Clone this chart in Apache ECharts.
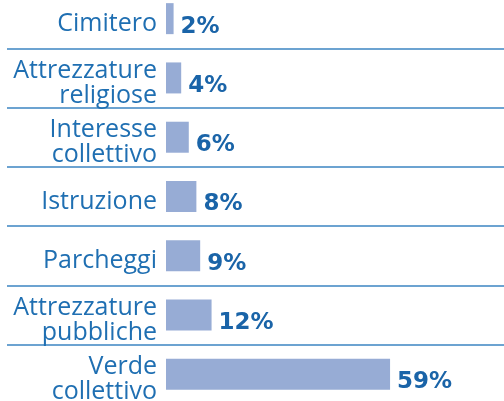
<!DOCTYPE html>
<html>
<head>
<meta charset="utf-8">
<script src="https://cdn.jsdelivr.net/npm/echarts@6/dist/echarts.min.js"></script>
<style>
  html, body { margin: 0; padding: 0; background: #fff; overflow: hidden; }
  /* il grafico sborda di qualche pixel in alto e in basso, come nell'originale */
  #chart { position: relative; top: -11px; width: 504px; height: 420px; }
</style>
</head>
<body>
<div id="chart"></div>
<script>
// categorie (dall'alto in basso)
var categorie = [
  "Cimitero",
  "Attrezzature\nreligiose",
  "Interesse\ncollettivo",
  "Istruzione",
  "Parcheggi",
  "Attrezzature\npubbliche",
  "Verde\ncollettivo"
];
// percentuali
var valori = [2, 4, 6, 8, 9, 12, 59];

var chart = echarts.init(document.getElementById("chart"));

var option = {
  backgroundColor: "#ffffff",
  animation: false,
  grid: [
    { left: 166, right: 0, top: 0, bottom: 5 },  // barre
    { left: 7, right: 0, top: 0, bottom: 5 },    // linee separatrici
    { left: 166, right: 0, top: 5, bottom: 0 }   // etichette, un po' più in basso
  ],
  xAxis: [
    { gridIndex: 0, type: "value", min: 0, max: 89, show: false },
    { gridIndex: 1, type: "value", min: 0, max: 1, show: false },
    { gridIndex: 2, type: "value", min: 0, max: 1, show: false }
  ],
  yAxis: [
    {
      gridIndex: 0,
      type: "category",
      inverse: true,
      data: categorie,
      show: false
    },
    {
      gridIndex: 1,
      type: "category",
      inverse: true,
      data: categorie,
      axisLine: { show: false },
      axisTick: { show: false },
      axisLabel: { show: false },
      splitLine: { show: true, lineStyle: { color: "#3b84c2", width: 1.5 } }
    },
    {
      gridIndex: 2,
      type: "category",
      inverse: true,
      data: categorie,
      axisLine: { show: false },
      axisTick: { show: false },
      splitLine: { show: false },
      axisLabel: {
        margin: 9,
        color: "#1f6fb2",
        fontFamily: "Open Sans",
        fontSize: 25,
        lineHeight: 25
      }
    }
  ],
  series: [
    {
      type: "bar",
      xAxisIndex: 0,
      yAxisIndex: 0,
      data: valori,
      barWidth: 31,
      itemStyle: { color: "#97acd5" },
      label: {
        show: true,
        position: "right",
        distance: 7,
        offset: [0, 8],
        formatter: "{c}%",
        color: "#1a64a8",
        fontFamily: "DejaVu Sans",
        fontWeight: "bold",
        fontSize: 23
      }
    }
  ]
};

chart.setOption(option);
</script>
</body>
</html>
